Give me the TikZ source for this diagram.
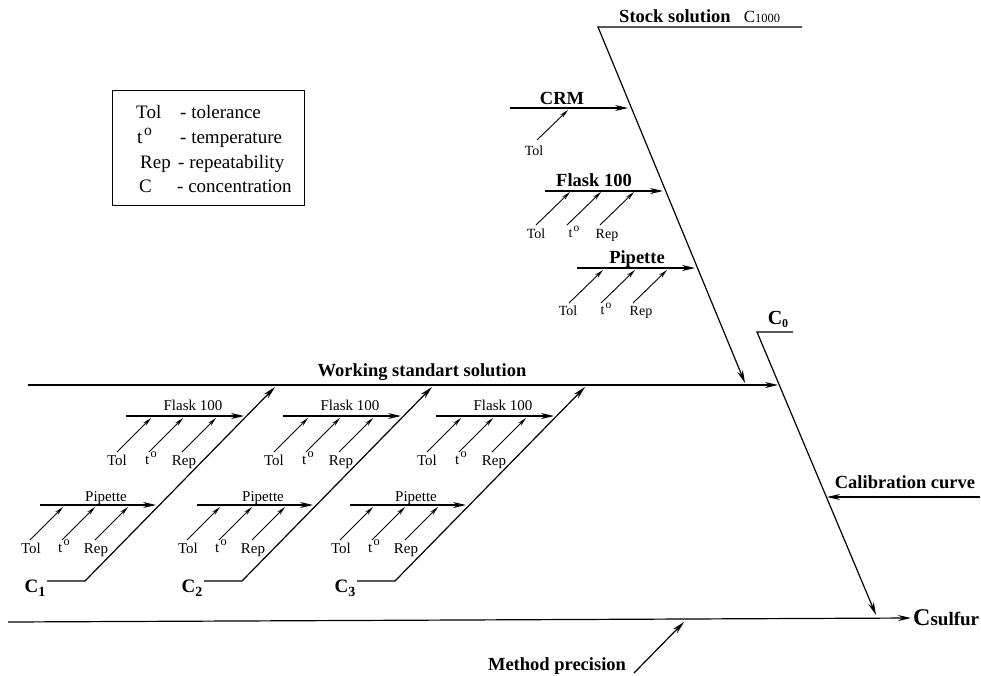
\documentclass[tikz,border=0pt]{standalone}
\usepackage{fontspec}
\setmainfont{Liberation Serif}
\usetikzlibrary{arrows.meta}
\newcommand{\tdeg}{t\hspace{0.08em}\raisebox{0.42em}{\scalebox{0.82}{o}}}
\begin{document}
\begin{tikzpicture}[x=1pt,y=-1pt,
  main/.style={line width=1.2pt,-{Stealth[length=13pt,width=6pt]}},
  small/.style={line width=0.9pt,-{Stealth[length=9pt,width=4pt]}},
  lbl/.style={font=\fontsize{14}{14}\selectfont, inner sep=0pt, text height=9pt, text depth=0pt},
  blbl/.style={font=\fontsize{18.5}{18.5}\selectfont\bfseries, inner sep=0pt, text height=12pt, text depth=0pt},
  glbl/.style={font=\fontsize{15}{15}\selectfont, inner sep=0pt, text height=10pt, text depth=0pt},
  leg/.style={font=\fontsize{19}{19}\selectfont, inner sep=0pt, anchor=base west}]
\useasboundingbox (0,0) rectangle (981,675);

% legend
\node[draw, line width=1pt, minimum width=192pt, minimum height=115pt, anchor=north west, inner sep=0pt] (legend) at (112,90) {};
\node[leg] (l1a) at (136,118) {Tol};
\node[leg] (l1b) at (180,118) {- tolerance};
\node[leg] (l2a) at (137,143) {\tdeg};
\node[leg] (l2b) at (180,143) {- temperature};
\node[leg] (l3a) at (140,168) {Rep};
\node[leg] (l3b) at (178,168) {- repeatability};
\node[leg] (l4a) at (139,192) {C};
\node[leg] (l4b) at (177,192) {- concentration};

% stock solution branch
\coordinate (sEnd) at (802,27);
\coordinate (sTop) at (598,27);
\coordinate (wsTip) at (745,383);
\node[blbl] (stock) at (675,16) {Stock solution};
\node[inner sep=0pt, anchor=base] (c1000) at (762,22) {{\fontsize{17}{17}\selectfont C}{\fontsize{12.5}{12.5}\selectfont 1000}};
\draw[main] (sEnd) -- (sTop) -- (wsTip);

% CRM
\coordinate (crmS) at (510,108);
\coordinate (crmE) at (628,108);
\node[blbl] (crm) at (562,98) {CRM};
\draw[main] (crmS) -- (crmE);
\coordinate (crmT) at (537,140);
\coordinate (crmH) at (568,110);
\draw[small] (crmT) -- (crmH);
\node[lbl] (crmTol) at (534,151) {Tol};

% Flask 100 (top)
\coordinate (fS) at (545,191);
\coordinate (fE) at (663,191);
\node[blbl] (flaskT) at (594,180) {Flask 100};
\draw[main] (fS) -- (fE);
\foreach \i/\x in {1/536,2/567,3/600}{
  \coordinate (ft\i) at (\x,225);
  \coordinate (fh\i) at ({\x+34},192);
  \draw[small] (ft\i) -- (fh\i);
}
\node[lbl] (fTol) at (536,234) {Tol};
\node[lbl] (fT) at (574,233) {\tdeg};
\node[lbl] (fRep) at (607,234) {Rep};

% Pipette (top)
\coordinate (pS) at (577,268);
\coordinate (pE) at (695,268);
\node[blbl] (pipT) at (637,257) {Pipette};
\draw[main] (pS) -- (pE);
\foreach \i/\x in {1/569,2/601,3/633}{
  \coordinate (pt\i) at (\x,303);
  \coordinate (ph\i) at ({\x+34},270);
  \draw[small] (pt\i) -- (ph\i);
}
\node[lbl] (pTol) at (568,311) {Tol};
\node[lbl] (pT) at (606,310) {\tdeg};
\node[lbl] (pRep) at (641,311) {Rep};

% C0 and main diagonal
\node[inner sep=0pt, anchor=base, font=\bfseries] (c0) at (778,324) {{\fontsize{20}{20}\selectfont C}\raisebox{-3pt}{\fontsize{12}{12}\selectfont 0}};
\coordinate (c0E) at (793,332);
\coordinate (c0S) at (757,332);
\coordinate (csTip) at (876,615);
\draw[main] (c0E) -- (c0S) -- (csTip);

% working standard solution
\coordinate (wS) at (28,385);
\coordinate (wE) at (778,385);
\node[blbl] (work) at (422,370) {Working standart solution};
\draw[main] (wS) -- (wE);

% calibration curve
\coordinate (calS) at (980,497);
\coordinate (calE) at (827,497);
\node[blbl] (cal) at (905,482) {Calibration curve};
\draw[main] (calS) -- (calE);

% bottom line
\coordinate (bS) at (8,622);
\coordinate (bE) at (911,618);
\draw[main] (bS) -- (bE);
\node[inner sep=0pt, anchor=base west, font=\bfseries] (csulf) at (913,625) {{\fontsize{24}{24}\selectfont C}{\fontsize{19}{19}\selectfont sulfur}};

% method precision
\coordinate (mpT) at (634,673);
\coordinate (mpH) at (684,622);
\draw[main] (mpT) -- (mpH);
\node[blbl] (mp) at (557,664) {Method precision};

% three working standard groups
\foreach \k/\o in {1/0,2/157,3/310}{
  % flask
  \coordinate (gfS\k) at ({126+\o},416);
  \coordinate (gfE\k) at ({244+\o},416);
  \draw[main] (gfS\k) -- (gfE\k);
  \node[glbl] (gfL\k) at ({193+\o},405) {Flask 100};
  \foreach \j/\x in {1/117,2/149,3/182}{
    \coordinate (gft\k\j) at ({\x+\o},452);
    \coordinate (gfh\k\j) at ({\x+\o+34},418);
    \draw[small] (gft\k\j) -- (gfh\k\j);
  }
  \node[glbl] (gfTol\k) at ({117+\o},460) {Tol};
  \node[glbl] (gfT\k) at ({151+\o},459) {\tdeg};
  \node[glbl] (gfRep\k) at ({184+\o},460) {Rep};
  % pipette
  \coordinate (gpS\k) at ({40+\o},505);
  \coordinate (gpE\k) at ({156+\o},505);
  \draw[main] (gpS\k) -- (gpE\k);
  \node[glbl] (gpL\k) at ({106+\o},496) {Pipette};
  \foreach \j/\x in {1/30,2/62,3/95}{
    \coordinate (gpt\k\j) at ({\x+\o},540);
    \coordinate (gph\k\j) at ({\x+\o+33},507);
    \draw[small] (gpt\k\j) -- (gph\k\j);
  }
  \node[glbl] (gpTol\k) at ({31+\o},548) {Tol};
  \node[glbl] (gpT\k) at ({64+\o},547) {\tdeg};
  \node[glbl] (gpRep\k) at ({96+\o},548) {Rep};
  % C_k
  \node[inner sep=0pt, anchor=base, font=\bfseries] (cl\k) at ({35+\o},592) {{\fontsize{19}{19}\selectfont C}\raisebox{-4pt}{\fontsize{14}{14}\selectfont\k}};
  \coordinate (chS\k) at ({47+\o},581);
  \coordinate (chE\k) at ({85+\o},581);
  \coordinate (cdT\k) at ({275+\o},387);
  \draw[main] (chS\k) -- (chE\k) -- (cdT\k);
}
\end{tikzpicture}
\end{document}
